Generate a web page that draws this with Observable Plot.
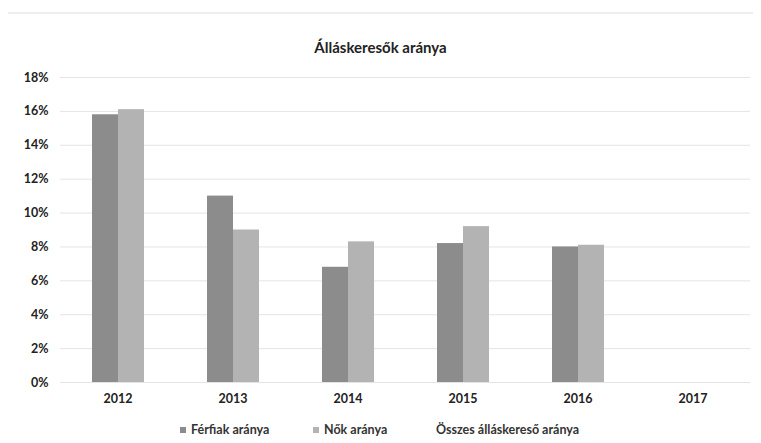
<!DOCTYPE html>
<html><head><meta charset="utf-8">
<script src="https://cdn.jsdelivr.net/npm/d3@7"></script>
<script src="https://cdn.jsdelivr.net/npm/@observablehq/plot@0.6"></script>
<style>
body{margin:0;background:#fff;font-family:Lato,"Open Sans",sans-serif;width:761px;height:443px;overflow:hidden;}
#top{height:12px;border-bottom:2px solid #eeeeee;margin:0 8px;}
#title{height:48px;box-sizing:border-box;text-align:center;font-weight:700;font-size:15px;color:#222;line-height:18px;padding-top:24px;}
#legend{position:relative;font-weight:700;font-size:12.5px;color:#333;height:31px;}
.item{display:flex;align-items:center;position:absolute;}
.sw{width:6px;height:6px;margin-right:5px;}
</style></head>
<body>
<div id="top"></div>
<div id="title">Álláskeresők aránya</div>
<div id="chart"></div>
<div id="legend"></div>
<script>
const years = ["2012","2013","2014","2015","2016","2017"];
const series = ["Férfiak aránya","Nők aránya"];
const ferfiak = [15.8, 11.0, 6.8, 8.2, 8.0, null];
const nok = [16.1, 9.0, 8.3, 9.2, 8.1, null];
const colors = ["#8c8c8c","#b3b3b3"];
const yTicks = [0,2,4,6,8,10,12,14,16,18];
const legendLabels = ["Férfiak aránya","Nők aránya","Összes álláskereső aránya"];

const data = [];
years.forEach((y,i)=>{
  data.push({year:y, series:series[0], value:ferfiak[i]});
  data.push({year:y, series:series[1], value:nok[i]});
});

const chart = Plot.plot({
  width: 761,
  height: 352,
  marginTop: 15,
  marginLeft: 58,
  marginRight: 10,
  marginBottom: 32,
  style: {fontFamily: "Lato, 'Open Sans', sans-serif", fontSize: "12.5px", fontWeight: 700, color: "#222"},
  fx: {domain: years, padding: 0, label: null, tickSize: 0, tickPadding: 12},
  x: {domain: series, axis: null, paddingInner: 0, paddingOuter: 1.2},
  y: {domain: [0,18], ticks: yTicks, tickFormat: d => d + "%", label: null, tickSize: 0, tickPadding: 12},
  color: {domain: series, range: colors},
  marks: [
    Plot.gridY(yTicks, {stroke: "#e4e4e4", strokeOpacity: 1}),
    Plot.barY(data, {fx: "year", x: "series", y: "value", fill: "series"})
  ]
});
document.getElementById("chart").appendChild(chart);

const leg = document.getElementById("legend");
const pos = [180, 313, 436];
legendLabels.forEach((t,i)=>{
  const it = document.createElement("div");
  it.className = "item";
  it.style.left = pos[i] + "px";
  it.style.top = "8px";
  if (i < 2) {
    const s = document.createElement("span");
    s.className = "sw";
    s.style.background = colors[i];
    it.appendChild(s);
  }
  const l = document.createElement("span");
  l.textContent = t;
  it.appendChild(l);
  leg.appendChild(it);
});
</script>
</body></html>
